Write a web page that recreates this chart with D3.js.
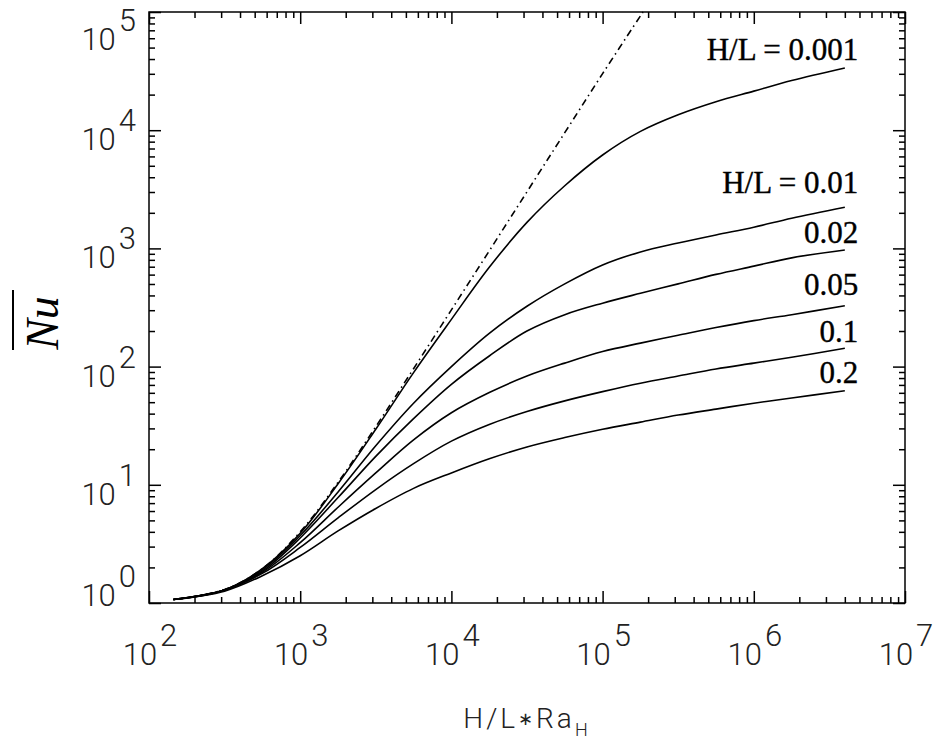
<!DOCTYPE html>
<html>
<head>
<meta charset="utf-8">
<script src="https://cdn.jsdelivr.net/npm/d3@7"></script>
<style>
  body { margin: 0; background: #fff; }
  svg { display: block; }
</style>
</head>
<body>
<div id="chart"></div>
<script>
// H/L * Ra_H values where the curves are sampled
const raValues = [145, 316, 562, 1000, 1780, 3160, 5620, 1e4, 1.78e4, 3.16e4, 5.62e4, 1e5, 1.78e5, 3.16e5, 5.62e5, 1e6, 1.78e6, 4e6];

// mean Nusselt number
const nu0001 = [1.07, 1.29, 1.95, 3.89, 10.2, 29.5, 89, 251, 692, 1660, 3390, 6170, 9770, 13500, 17400, 21400, 26300, 33600];
const nu001  = [1.07, 1.29, 1.91, 3.72, 8.7, 21.4, 49, 100, 191, 324, 501, 724, 933, 1110, 1300, 1510, 1800, 2230];
const nu002  = [1.07, 1.29, 1.86, 3.55, 7.8, 17.4, 36.3, 70.8, 123, 200, 275, 344, 417, 501, 603, 708, 832, 969];
const nu005  = [1.07, 1.29, 1.82, 3.24, 6.46, 12.6, 24, 40.7, 60.3, 83.2, 107, 134, 158, 184, 214, 245, 275, 327];
const nu01   = [1.07, 1.29, 1.78, 2.95, 5.25, 9.12, 15.1, 23.4, 32.4, 41.7, 51.3, 61.4, 72.4, 83.2, 95.5, 107, 120, 143];
const nu02   = [1.07, 1.26, 1.70, 2.51, 4.07, 6.31, 9.33, 12.6, 16.6, 20.9, 25.1, 29.5, 33.9, 38.9, 43.7, 49, 54.3, 62.5];

// dash-dot limit line
const limitRa = [145, 316, 562, 1000, 1780, 3160, 5620, 1e4, 1.78e4, 3.16e4, 5.62e4, 1e5, 1.85e5];
const limitNu = [1.07, 1.30, 1.95, 4.0, 10.5, 31, 96, 302, 953, 3010, 9530, 30100, 1e5];

// curve labels
const curveNames = ["H/L = 0.001", "H/L = 0.01", "0.02", "0.05", "0.1", "0.2"];
const labelRa = 4.9e6;
const labelNu = [39300, 2944, 1111, 403, 161.5, 72.6];

const xTickExp = [2, 3, 4, 5, 6, 7];
const yTickExp = [0, 1, 2, 3, 4, 5];

let margin = {top: 12, right: 30, bottom: 141, left: 149},
    width = 935 - margin.left - margin.right,
    height = 744 - margin.top - margin.bottom;

let xScale = d3.scaleLog().domain([1e2, 1e7]).range([0, width]),
    yScale = d3.scaleLog().domain([1, 1e5]).range([height, 0]);

let svg = d3.select("#chart")
    .append("svg")
    .attr("width", 935)
    .attr("height", 744)
    .append("g")
    .attr("transform", "translate(" + margin.left + "," + margin.top + ")");

const tickFont = "Roboto, 'Liberation Sans', Arial, sans-serif";
const serifFont = "'Liberation Serif', 'Times New Roman', serif";

// ticks on all four sides, pointing in
function addTicks(axisFn, scale, transform, size, values) {
    svg.append("g")
        .attr("transform", transform)
        .call(axisFn(scale).tickValues(values).tickSize(size).tickSizeOuter(0).tickFormat(""))
        .call(g => g.select(".domain").remove())
        .selectAll("line").attr("stroke", "#000").attr("stroke-width", 1.5);
}

let majorX = xTickExp.map(e => Math.pow(10, e)),
    majorY = yTickExp.map(e => Math.pow(10, e));
let minorX = xScale.ticks().filter(v => majorX.indexOf(v) < 0),
    minorY = yScale.ticks().filter(v => majorY.indexOf(v) < 0);

addTicks(d3.axisBottom, xScale, "translate(0," + height + ")", -12, majorX);
addTicks(d3.axisBottom, xScale, "translate(0," + height + ")", -6, minorX);
addTicks(d3.axisTop, xScale, "translate(0,0)", -12, majorX);
addTicks(d3.axisTop, xScale, "translate(0,0)", -6, minorX);
addTicks(d3.axisLeft, yScale, "translate(0,0)", -12, majorY);
addTicks(d3.axisLeft, yScale, "translate(0,0)", -6, minorY);
addTicks(d3.axisRight, yScale, "translate(" + width + ",0)", -12, majorY);
addTicks(d3.axisRight, yScale, "translate(" + width + ",0)", -6, minorY);

svg.append("rect")
    .attr("x", 0).attr("y", 0)
    .attr("width", width).attr("height", height)
    .attr("fill", "none")
    .attr("stroke", "#000")
    .attr("stroke-width", 1.5);

// tick labels 10^n
xTickExp.forEach(function (e) {
    let t = svg.append("text")
        .attr("x", xScale(Math.pow(10, e)) + 1)
        .attr("y", height + 62)
        .attr("text-anchor", "middle")
        .style("font-family", tickFont)
        .style("font-weight", 300)
        .style("font-size", "31px")
        .attr("fill", "#222");
    t.append("tspan").text("10");
    t.append("tspan").attr("dy", -19).attr("dx", 3).text(e);
});

yTickExp.forEach(function (e, i) {
    let off = i === 0 ? 3 : (i === yTickExp.length - 1 ? 38 : 20);
    let t = svg.append("text")
        .attr("x", -13)
        .attr("y", yScale(Math.pow(10, e)) + off)
        .attr("text-anchor", "end")
        .style("font-family", tickFont)
        .style("font-weight", 300)
        .style("font-size", "31px")
        .attr("fill", "#222");
    t.append("tspan").text("10");
    t.append("tspan").attr("dy", -19).attr("dx", 3).text(e);
});

// axis titles
let xt = svg.append("text")
    .attr("x", width / 2)
    .attr("y", 716)
    .attr("text-anchor", "middle")
    .style("font-family", tickFont)
    .style("font-weight", 300)
    .style("font-size", "28px")
    .style("letter-spacing", "3px")
    .attr("fill", "#222");
xt.append("tspan").text("H/L");
xt.append("tspan").attr("dy", -3).style("font-size", "18px").text("\u2217");
xt.append("tspan").attr("dy", 3).text("Ra");
xt.append("tspan").attr("dy", 8).style("font-size", "18px").text("H");

svg.append("text")
    .attr("transform", "translate(" + (58 - margin.left) + "," + (323 - margin.top) + ") rotate(-90)")
    .attr("text-anchor", "middle")
    .style("font-family", serifFont)
    .style("font-style", "italic")
    .style("font-size", "46px")
    .attr("fill", "#000")
    .text("Nu");
svg.append("line")
    .attr("x1", 13 - margin.left).attr("x2", 13 - margin.left)
    .attr("y1", 290 - margin.top).attr("y2", 350 - margin.top)
    .attr("stroke", "#000").attr("stroke-width", 2);

// curves
let line = d3.line()
    .x(function (d) { return xScale(d[0]); })
    .y(function (d) { return yScale(d[1]); })
    .curve(d3.curveCatmullRom.alpha(0.5));

let curves = [nu0001, nu001, nu002, nu005, nu01, nu02];
curves.forEach(function (nu) {
    svg.append("path")
        .datum(raValues.map(function (r, i) { return [r, nu[i]]; }))
        .attr("fill", "none")
        .attr("stroke", "#000")
        .attr("stroke-width", 1.6)
        .attr("d", line);
});

svg.append("path")
    .datum(limitRa.map(function (r, i) { return [r, limitNu[i]]; }))
    .attr("fill", "none")
    .attr("stroke", "#000")
    .attr("stroke-width", 1.6)
    .attr("stroke-dasharray", "7,4,1.5,4")
    .attr("d", line);

curveNames.forEach(function (name, i) {
    svg.append("text")
        .attr("x", xScale(labelRa))
        .attr("y", yScale(labelNu[i]))
        .attr("text-anchor", "end")
        .style("font-family", serifFont)
        .style("font-size", "31px")
        .attr("fill", "#000")
        .attr("stroke", "#000")
        .attr("stroke-width", 0.4)
        .text(name);
});
</script>
</body>
</html>
